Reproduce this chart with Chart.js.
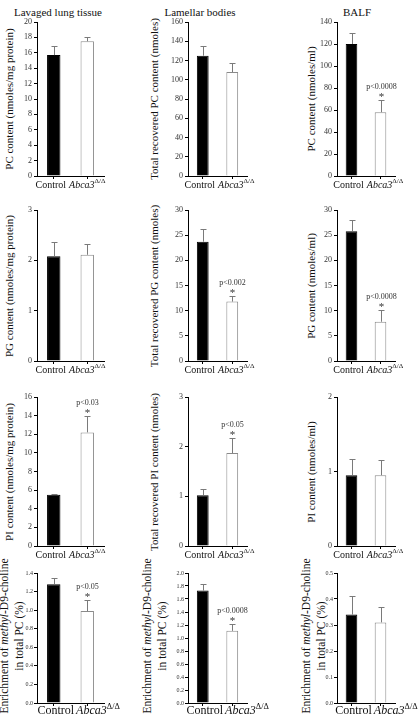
<!DOCTYPE html>
<html><head><meta charset="utf-8">
<script src="https://cdn.jsdelivr.net/npm/chart.js@4"></script>
<style>
body{margin:0;width:419px;height:715px;overflow:hidden;background:#fff;position:relative;font-family:"Liberation Serif","Times New Roman",serif;color:#111;}
canvas{position:absolute;}
.yt{position:absolute;white-space:nowrap;transform:translate(-50%,-50%) rotate(-90deg);font-size:11px;line-height:1.25;text-align:center;}
.ct{position:absolute;transform:translate(-50%,-50%);font-size:11px;white-space:nowrap;}
</style></head><body>
<script>
// ---- data ----
const categories = ['Control', 'Abca3'];
const pcLungMean = [15.7, 17.5], pcLungErr = [1.2, 0.6], pcLungSig = ['', ''];
const pcLbMean = [125, 108],     pcLbErr = [10, 9],      pcLbSig = ['', ''];
const pcBalfMean = [120, 58],    pcBalfErr = [10, 11],   pcBalfSig = ['', 'p<0.0008'];
const pgLungMean = [2.08, 2.11], pgLungErr = [0.29, 0.22], pgLungSig = ['', ''];
const pgLbMean = [23.7, 11.8],   pgLbErr = [2.6, 1.2],   pgLbSig = ['', 'p<0.002'];
const pgBalfMean = [25.8, 7.8],  pgBalfErr = [2.2, 2.4], pgBalfSig = ['', 'p<0.0008'];
const piLungMean = [5.5, 12.2],  piLungErr = [0.1, 1.8], piLungSig = ['', 'p<0.03'];
const piLbMean = [1.02, 1.87],   piLbErr = [0.12, 0.3],  piLbSig = ['', 'p<0.05'];
const piBalfMean = [0.95, 0.95], piBalfErr = [0.22, 0.2], piBalfSig = ['', ''];
const enLungMean = [1.28, 0.99], enLungErr = [0.07, 0.12], enLungSig = ['', 'p<0.05'];
const enLbMean = [1.73, 1.11],   enLbErr = [0.1, 0.11],  enLbSig = ['', 'p<0.0008'];
const enBalfMean = [0.34, 0.31], enBalfErr = [0.07, 0.06], enBalfSig = ['', ''];
// y-axis tick ranges: [max, step, decimals]
const yTicks = [[20,2,0],[160,20,0],[140,20,0],[3,1,0],[30,5,0],[30,5,0],[16,2,0],[3,1,0],[2,1,0],[1.4,0.2,1],[2.0,0.2,1],[0.5,0.1,1]];
const colTitles = ['Lavaged lung tissue', 'Lamellar bodies', 'BALF'];
const yTitles = ['PC content (nmoles/mg protein)','Total recovered PC content (nmoles)','PC content (nmoles/ml)',
 'PG content (nmoles/mg protein)','Total recovered PG content (nmoles)','PG content (nmoles/ml)',
 'PI content (nmoles/mg protein)','Total recovered PI content (nmoles)','PI content (nmoles/ml)'];

const series = [
 [pcLungMean,pcLungErr,pcLungSig],[pcLbMean,pcLbErr,pcLbSig],[pcBalfMean,pcBalfErr,pcBalfSig],
 [pgLungMean,pgLungErr,pgLungSig],[pgLbMean,pgLbErr,pgLbSig],[pgBalfMean,pgBalfErr,pgBalfSig],
 [piLungMean,piLungErr,piLungSig],[piLbMean,piLbErr,piLbSig],[piBalfMean,piBalfErr,piBalfSig],
 [enLungMean,enLungErr,enLungSig],[enLbMean,enLbErr,enLbSig],[enBalfMean,enBalfErr,enBalfSig]];

// ---- layout ----
const axisX = [37,188,337], xRight = [104,247,395];
const yTop = [22,210,397,573], yBot = [176,361,546,703];
const colTitleX = [58,200,357];
const yTitleX = [10,155,312];
const yTitleY = [99,286,472];

colTitles.forEach((t,i)=>{
  const d=document.createElement('div'); d.className='ct'; d.textContent=t;
  d.style.left=colTitleX[i]+'px'; d.style.top='12px'; document.body.appendChild(d);
});
yTitles.forEach((t,k)=>{
  const r=Math.floor(k/3), c=k%3;
  const d=document.createElement('div'); d.className='yt'; d.textContent=t;
  d.style.left=yTitleX[c]+'px'; d.style.top=yTitleY[r]+'px'; document.body.appendChild(d);
});
[12,155,314].forEach((x)=>{
  const d=document.createElement('div'); d.className='yt'; d.style.fontSize='11.5px'; d.style.lineHeight='1.3';
  d.innerHTML='Enrichment of <i>methyl</i>-D9-choline<br>in total PC (%)';
  d.style.left=x+'px'; d.style.top='636px'; document.body.appendChild(d);
});

function makePlugin(mean, err, sig, big){
  return {
    id:'errbars',
    afterDatasetsDraw(chart){
      const ctx=chart.ctx, meta=chart.getDatasetMeta(0), y=chart.scales.y;
      ctx.save();
      ctx.strokeStyle='#7a7a7a'; ctx.lineWidth=1;
      mean.forEach((v,i)=>{
        const cx=Math.round(meta.data[i].x)+0.5;
        const y0=y.getPixelForValue(v), y1=Math.round(y.getPixelForValue(v+err[i]))+0.5;
        ctx.beginPath(); ctx.moveTo(cx,y0); ctx.lineTo(cx,y1);
        ctx.moveTo(cx-3,y1); ctx.lineTo(cx+3,y1); ctx.stroke();
        if(sig[i]){
          ctx.fillStyle='#333'; ctx.textAlign='center'; ctx.textBaseline='middle';
          ctx.font='8px "Liberation Serif"'; ctx.fillText(sig[i], cx, y1-14);
          ctx.font='11px "Liberation Serif"'; ctx.fillText('*', cx, y1-3);
        }
      });
      // x category labels
      const base=chart.chartArea.bottom + (big?8:9);
      const fs = big?12:10;
      ctx.fillStyle='#111'; ctx.textBaseline='middle'; ctx.textAlign='left';
      const c0=meta.data[0].x;
      ctx.font=fs+'px "Liberation Serif"';
      const wc=ctx.measureText(categories[0]).width;
      const cc = c0 + (big?2:-3);
      ctx.fillText(categories[0], cc-wc/2, base);
      const sx = cc + wc/2 + (big?2:3);
      ctx.font='italic '+fs+'px "Liberation Serif"';
      const w1=ctx.measureText(categories[1]).width;
      ctx.fillText(categories[1], sx, base);
      ctx.font=(fs*0.7)+'px "Liberation Serif"';
      ctx.fillText('Δ/Δ', sx+w1, base-fs*0.35);
      ctx.restore();
    }
  };
}

series.forEach((s,k)=>{
  const r=Math.floor(k/3), c=k%3;
  const [mean, err, sig]=s;
  const [ymax, ystep, dec]=yTicks[k];
  const big = r===3;
  const padR = big?30:20;
  const left=axisX[c]-32, top=yTop[r]-10;
  const w=xRight[c]-left+padR, h=yBot[r]-top+18;
  const cv=document.createElement('canvas');
  cv.width=w; cv.height=h; cv.style.left=left+'px'; cv.style.top=top+'px';
  cv.style.width=w+'px'; cv.style.height=h+'px';
  document.body.appendChild(cv);
  new Chart(cv,{
    type:'bar',
    data:{labels:categories, datasets:[{data:mean,
      backgroundColor:['#000000','#ffffff'], borderColor:['#000000','#8a8a8a'], borderWidth:1,
      barPercentage:0.4, categoryPercentage:1}]},
    options:{
      responsive:false, animation:false, devicePixelRatio:1,
      layout:{padding:{top:10,right:padR,left:0,bottom:0}},
      plugins:{legend:{display:false},tooltip:{enabled:false}},
      scales:{
        x:{grid:{display:true,drawOnChartArea:false,drawTicks:true,tickLength:3,offset:false,color:'#000'},
           border:{display:true,color:'#000',width:1},
           ticks:{display:false},
           afterFit(sc){sc.height=18;}},
        y:{min:0,max:ymax,
           ticks:{stepSize:ystep,padding:big?1:2,color:'#333',font:{family:'Liberation Serif',size:big?6:8},
             callback:(v)=>Number(v).toFixed(dec)},
           grid:{display:true,drawOnChartArea:false,drawTicks:true,tickLength:3,color:'#000'},
           border:{display:true,color:'#000',width:1},
           afterFit(sc){sc.width=32;}}
      }
    },
    plugins:[makePlugin(mean,err,sig,big)]
  });
});
</script>
</body></html>
